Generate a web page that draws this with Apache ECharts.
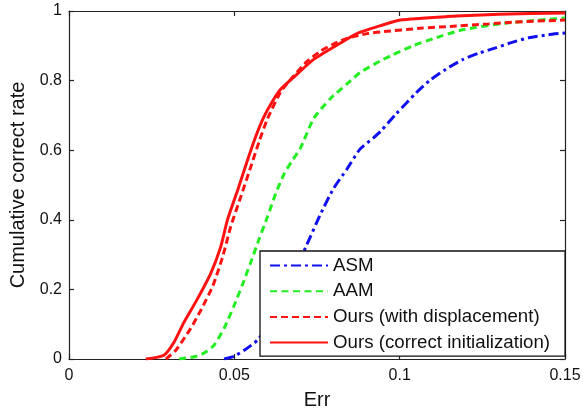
<!DOCTYPE html>
<html>
<head>
<meta charset="utf-8">
<script src="https://cdn.jsdelivr.net/npm/echarts@6/dist/echarts.min.js"></script>
<style>html,body{margin:0;padding:0;background:#fff}#c{width:584px;height:415px}</style>
</head>
<body>
<div id="c"></div>
<script>
var seriesNames = ['ASM', 'AAM', 'Ours (with displacement)', 'Ours (correct initialization)'];
var xTicks = [0, 0.05, 0.1, 0.15];
var yTicks = [0, 0.2, 0.4, 0.6, 0.8, 1];

var asmX = [0.0469, 0.050, 0.053, 0.057, 0.060, 0.064, 0.068, 0.072, 0.076, 0.080, 0.084, 0.088, 0.092, 0.0942, 0.099, 0.105, 0.109, 0.114, 0.119, 0.124, 0.129, 0.134, 0.139, 0.145, 0.15];
var asmY = [0, 0.008, 0.025, 0.054, 0.095, 0.165, 0.245, 0.33, 0.415, 0.49, 0.545, 0.603, 0.635, 0.654, 0.705, 0.765, 0.80, 0.833, 0.86, 0.879, 0.894, 0.91, 0.923, 0.932, 0.937];

var aamX = [0.0333, 0.0383, 0.041, 0.0439, 0.047, 0.0499, 0.0525, 0.0549, 0.0575, 0.060, 0.0625, 0.065, 0.0675, 0.070, 0.074, 0.079, 0.084, 0.088, 0.094, 0.0972, 0.104, 0.110, 0.119, 0.132, 0.15];
var aamY = [0, 0.007, 0.018, 0.04, 0.09, 0.153, 0.215, 0.276, 0.345, 0.408, 0.475, 0.531, 0.57, 0.606, 0.691, 0.748, 0.79, 0.823, 0.856, 0.871, 0.900, 0.92, 0.946, 0.965, 0.98];

var dispX = [0.0293, 0.0323, 0.0368, 0.0398, 0.0435, 0.0465, 0.0489, 0.0519, 0.0549, 0.0575, 0.060, 0.064, 0.068, 0.072, 0.0761, 0.080, 0.0842, 0.0901, 0.0942, 0.107, 0.114, 0.127, 0.134, 0.15];
var dispY = [0, 0.025, 0.088, 0.139, 0.21, 0.295, 0.38, 0.465, 0.55, 0.625, 0.69, 0.767, 0.814, 0.855, 0.885, 0.905, 0.922, 0.935, 0.94, 0.951, 0.955, 0.963, 0.968, 0.974];

var corrX = [0.0232, 0.0287, 0.0318, 0.0348, 0.0388, 0.0429, 0.0459, 0.0479, 0.051, 0.0539, 0.0565, 0.0589, 0.0615, 0.064, 0.068, 0.074, 0.0821, 0.0875, 0.0942, 0.1002, 0.1144, 0.130, 0.15];
var corrY = [0, 0.011, 0.049, 0.106, 0.172, 0.247, 0.323, 0.399, 0.485, 0.569, 0.64, 0.695, 0.74, 0.775, 0.81, 0.861, 0.908, 0.937, 0.958, 0.974, 0.984, 0.991, 0.994];

function pairs(xs, ys) { return xs.map(function (x, i) { return [x, ys[i]]; }); }

var FONT = 'Liberation Sans, Arial, Helvetica, sans-serif';
var chart = echarts.init(document.getElementById('c'), null, {renderer: 'canvas'});
var axisLine = {show: true, onZero: false, lineStyle: {color: '#222', width: 1.2}};
var tick = {show: true, inside: true, length: 5, lineStyle: {color: '#222', width: 1.2}};
var BLUE = '#1010f0', GREEN = '#22ee22', RED = '#ff1212';
var option = {
  animation: false,
  backgroundColor: '#fff',
  grid: {left: 68, right: 19, top: 11, bottom: 51, containLabel: false},
  legend: {
    orient: 'vertical', left: 260, top: 251,
    backgroundColor: '#fff', borderColor: '#111', borderWidth: 1.3, borderRadius: 0,
    padding: [5, 15, 4, 9], itemGap: 6.7, itemWidth: 58, itemHeight: 14,
    itemStyle: {opacity: 0},
    textStyle: {fontFamily: FONT, fontSize: 18.7, lineHeight: 18, color: '#111'},
    data: seriesNames, z: 10
  },
  xAxis: [{
    type: 'value', min: xTicks[0], max: xTicks[xTicks.length - 1], interval: 0.05,
    name: 'Err', nameLocation: 'middle', nameGap: 31,
    nameTextStyle: {fontFamily: FONT, fontSize: 20, color: '#111'},
    axisLine: axisLine, splitLine: {show: false}, axisTick: tick,
    axisLabel: {fontFamily: FONT, fontSize: 16, color: '#111', margin: 9,
      formatter: function (v) { return String(+v.toFixed(2)); }}
  }, {
    type: 'value', position: 'top', min: 0, max: 0.15, interval: 0.05,
    axisLine: axisLine, splitLine: {show: false}, axisTick: tick,
    axisLabel: {show: false}
  }],
  yAxis: [{
    type: 'value', min: yTicks[0], max: yTicks[yTicks.length - 1], interval: 0.2,
    name: 'Cumulative correct rate', nameLocation: 'middle', nameGap: 41,
    nameTextStyle: {fontFamily: FONT, fontSize: 20, color: '#111'},
    axisLine: axisLine, splitLine: {show: false}, axisTick: tick,
    axisLabel: {fontFamily: FONT, fontSize: 16, color: '#111', margin: 7,
      formatter: function (v) { return String(+v.toFixed(1)); }}
  }, {
    type: 'value', position: 'right', min: 0, max: 1, interval: 0.2,
    axisLine: axisLine, splitLine: {show: false}, axisTick: tick,
    axisLabel: {show: false}
  }],
  series: [
    {name: seriesNames[0], type: 'line', symbol: 'none', smooth: 0.2, z: 2,
      data: pairs(asmX, asmY), color: BLUE,
      lineStyle: {color: BLUE, width: 3, type: [10, 4, 3, 4]}},
    {name: seriesNames[1], type: 'line', symbol: 'none', smooth: 0.2, z: 3,
      data: pairs(aamX, aamY), color: GREEN,
      lineStyle: {color: GREEN, width: 3, type: [7, 4.5]}},
    {name: seriesNames[2], type: 'line', symbol: 'none', smooth: 0.2, z: 4,
      data: pairs(dispX, dispY), color: RED,
      lineStyle: {color: RED, width: 3, type: [7, 4]}},
    {name: seriesNames[3], type: 'line', symbol: 'none', smooth: 0.2, z: 5,
      data: pairs(corrX, corrY), color: RED,
      lineStyle: {color: RED, width: 3, type: 'solid'}}
  ]
};
chart.setOption(option);
</script>
</body>
</html>
